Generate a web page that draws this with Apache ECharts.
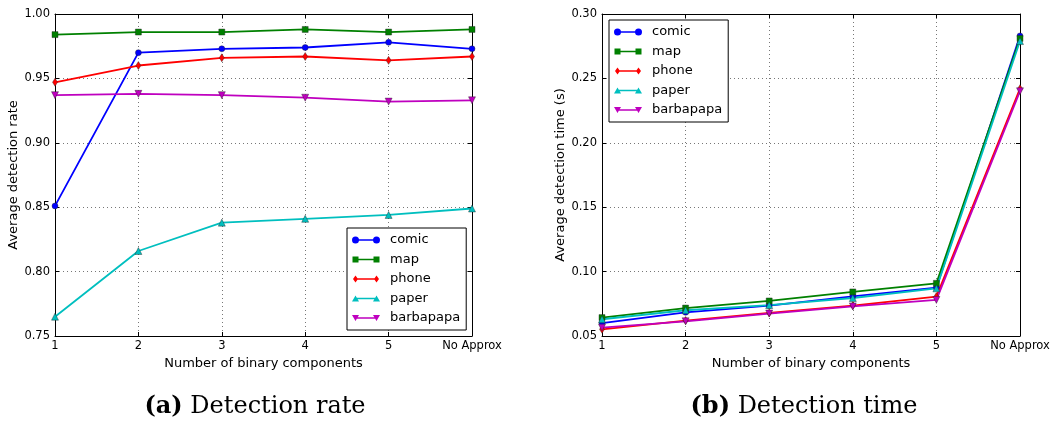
<!DOCTYPE html>
<html>
<head>
<meta charset="utf-8">
<script src="https://cdn.jsdelivr.net/npm/echarts@6/dist/echarts.min.js"></script>
<style>
  html, body { margin: 0; padding: 0; background: #fff; }
  #chart { width: 1056px; height: 423px; }
</style>
</head>
<body>
<div id="chart"></div>
<script>
// Categories along x (number of binary components)
const categories = ['1', '2', '3', '4', '5', 'No Approx'];
const seriesNames = ['comic', 'map', 'phone', 'paper', 'barbapapa'];

// (a) Average detection rate
const rateComic = [0.851, 0.970, 0.973, 0.974, 0.978, 0.973];
const rateMap = [0.984, 0.986, 0.986, 0.988, 0.986, 0.988];
const ratePhone = [0.947, 0.960, 0.966, 0.967, 0.964, 0.967];
const ratePaper = [0.765, 0.816, 0.838, 0.841, 0.844, 0.849];
const rateBarbapapa = [0.937, 0.938, 0.937, 0.935, 0.932, 0.933];

// (b) Average detection time in seconds
const timeComic = [0.0600, 0.0684, 0.0736, 0.0808, 0.0876, 0.283];
const timeMap = [0.0643, 0.0717, 0.0772, 0.0842, 0.0909, 0.281];
const timePhone = [0.0552, 0.0620, 0.0679, 0.0736, 0.0806, 0.242];
const timePaper = [0.0630, 0.0700, 0.0740, 0.0795, 0.0870, 0.279];
const timeBarbapapa = [0.0565, 0.0614, 0.0674, 0.0730, 0.0780, 0.240];

const colors = ['#0000ff', '#008000', '#ff0000', '#00bfbf', '#bf00bf'];
const symbols = ['circle', 'rect', 'diamond', 'triangle', 'path://M0,0 L10,0 L5,9 Z'];
const symbolSizes = [6, 6, [5, 8], 7, 7];

// Legend keys: a short line with a marker at each end
const bar = ' M3.5,2.8 L24.5,2.8 L24.5,4.2 L3.5,4.2 Z';
const legendIcons = [
  'path://M0,3.5 A3.5,3.5 0 1 1 7,3.5 A3.5,3.5 0 1 1 0,3.5 Z M21,3.5 A3.5,3.5 0 1 1 28,3.5 A3.5,3.5 0 1 1 21,3.5 Z' + bar,
  'path://M0.5,0.5 L6.5,0.5 L6.5,6.5 L0.5,6.5 Z M21.5,0.5 L27.5,0.5 L27.5,6.5 L21.5,6.5 Z M0,3.5 L28,3.5' + bar,
  'path://M3.5,0 L6,3.5 L3.5,7 L1,3.5 Z M24.5,0 L27,3.5 L24.5,7 L22,3.5 Z' + bar,
  'path://M3.5,0.5 L7,6.5 L0,6.5 Z M24.5,0.5 L28,6.5 L21,6.5 Z' + bar,
  'path://M0,0.5 L7,0.5 L3.5,6.5 Z M21,0.5 L28,0.5 L24.5,6.5 Z' + bar
];

const tickFont = { fontFamily: 'DejaVu Sans', fontSize: 11.5, color: '#000' };
const nameFont = { fontFamily: 'DejaVu Sans', fontSize: 13, color: '#000' };
const gridLine = { show: true, lineStyle: { color: '#777', type: [1, 3], width: 1 } };
const innerTick = { show: true, inside: true, length: 4, lineStyle: { color: '#000' } };

function xAxis(gridIndex) {
  return {
    type: 'category', gridIndex, data: categories, boundaryGap: false,
    name: 'Number of binary components', nameLocation: 'middle', nameGap: 18,
    nameTextStyle: nameFont,
    axisLine: { lineStyle: { color: '#000' } },
    axisTick: innerTick,
    axisLabel: Object.assign({ margin: 4, showMaxLabel: true }, tickFont),
    splitLine: gridLine
  };
}
// Mirror axis on the top edge, ticks only
function xAxisTop(gridIndex) {
  return {
    type: 'category', gridIndex, data: categories, boundaryGap: false, position: 'top',
    axisLine: { lineStyle: { color: '#000' } }, axisTick: innerTick,
    axisLabel: { show: false }, splitLine: { show: false }
  };
}
function yAxis(gridIndex, min, max, name) {
  return {
    type: 'value', gridIndex, min, max, interval: 0.05,
    name, nameLocation: 'middle', nameGap: 34, nameTextStyle: nameFont,
    axisLine: { show: true, lineStyle: { color: '#000' } },
    axisTick: innerTick,
    axisLabel: Object.assign({ margin: 5, formatter: v => v.toFixed(2) }, tickFont),
    splitLine: gridLine
  };
}
// Mirror axis on the right edge, ticks only
function yAxisRight(gridIndex, min, max) {
  return {
    type: 'value', gridIndex, min, max, interval: 0.05, position: 'right',
    axisLine: { show: true, lineStyle: { color: '#000' } }, axisTick: innerTick,
    axisLabel: { show: false }, splitLine: { show: false }
  };
}
function makeSeries(gridIdx, dataSets) {
  return dataSets.map((d, i) => ({
    name: seriesNames[i], type: 'line', xAxisIndex: gridIdx, yAxisIndex: gridIdx,
    data: d, symbol: symbols[i], symbolSize: symbolSizes[i], showAllSymbol: true,
    lineStyle: { color: colors[i], width: 1.8 },
    itemStyle: { color: colors[i], borderColor: '#222', borderWidth: 0.4 },
    emphasis: { disabled: true }, animation: false
  }));
}
function legend(left, top) {
  return {
    orient: 'vertical', left, top,
    data: seriesNames.map((n, i) => ({
      name: n, icon: legendIcons[i],
      itemStyle: { color: colors[i], borderColor: colors[i], borderWidth: 0 }
    })),
    itemWidth: 28, itemHeight: 7, itemGap: 5.5,
    padding: [5, 6, 5, 5],
    itemStyle: { borderWidth: 0 },
    borderColor: '#000', borderWidth: 1, backgroundColor: '#fff',
    textStyle: { fontFamily: 'DejaVu Sans', fontSize: 13, lineHeight: 14, color: '#000', padding: [0, 0, 0, 5] }
  };
}

const chart = echarts.init(document.getElementById('chart'), null, { renderer: 'canvas' });
chart.setOption({
  animation: false,
  grid: [
    { left: 55, top: 14, width: 417, height: 322 },
    { left: 602, top: 14, width: 418, height: 322 }
  ],
  legend: [legend(347, 228), legend(609, 20)],
  xAxis: [xAxis(0), xAxis(1), xAxisTop(0), xAxisTop(1)],
  yAxis: [
    yAxis(0, 0.75, 1.00, 'Average detection rate'),
    yAxis(1, 0.05, 0.30, 'Average detection time (s)'),
    yAxisRight(0, 0.75, 1.00),
    yAxisRight(1, 0.05, 0.30)
  ],
  series: [
    ...makeSeries(0, [rateComic, rateMap, ratePhone, ratePaper, rateBarbapapa]),
    ...makeSeries(1, [timeComic, timeMap, timePhone, timePaper, timeBarbapapa])
  ],
  graphic: [
    {
      type: 'text', x: 255, y: 419,
      style: {
        text: '{b|(a)} Detection rate', align: 'center', verticalAlign: 'bottom',
        fontFamily: 'DejaVu Serif', fontSize: 24, fill: '#000',
        rich: { b: { fontWeight: 'bold', fontFamily: 'DejaVu Serif', fontSize: 24 } }
      }
    },
    {
      type: 'text', x: 804, y: 419,
      style: {
        text: '{b|(b)} Detection time', align: 'center', verticalAlign: 'bottom',
        fontFamily: 'DejaVu Serif', fontSize: 24, fill: '#000',
        rich: { b: { fontWeight: 'bold', fontFamily: 'DejaVu Serif', fontSize: 24 } }
      }
    }
  ]
});
</script>
</body>
</html>
